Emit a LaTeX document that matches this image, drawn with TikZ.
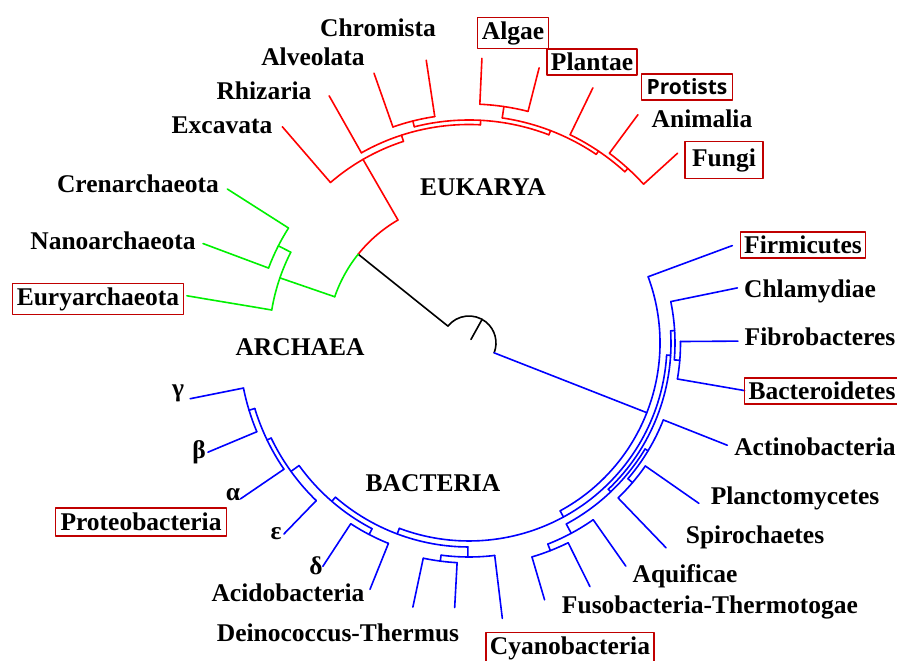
\documentclass[tikz,border=0pt]{standalone}
\usepackage{fontspec}
\setmainfont{Liberation Serif}
\newfontfamily\tagsans{Open Sans}
\usetikzlibrary{positioning}
\definecolor{eukred}{HTML}{FF0000}
\definecolor{archgreen}{HTML}{00F000}
\definecolor{bacblue}{HTML}{0000FF}
\definecolor{boxred}{HTML}{C00000}

\begin{document}
\begin{tikzpicture}[x=1pt,y=1pt,line width=1.6pt,line cap=round,line join=round,
      font=\fontsize{25.5}{30}\selectfont\bfseries,
      lbl/.style={inner sep=1pt},
      tag/.style={draw=boxred,line width=1.3pt,inner sep=4pt}]
    \useasboundingbox (0,0) rectangle (897,661);
    \begin{scope}[shift={(469,318)}]
      % root
      \coordinate (root) at (141.3:27);
      \coordinate (ea) at (141.3:142);
      \coordinate (bac) at (-21.4:191);
      \draw[black] (root) arc[start angle=141.3,end angle=-21.4,radius=27];
      \draw[black] (61:4) -- (61:27);
      \draw[black] (root) -- (ea);
      \draw[bacblue] (-21.4:27) -- (bac);
      \draw[eukred] (120:142) arc[start angle=120,end angle=141.3,radius=142];
      \draw[archgreen] (ea) arc[start angle=141.3,end angle=161,radius=142];
      % eukarya
      \foreach \a/\b/\r in {130.8/108/212,119.5/87/218.5,104.2/69/223,109.4/98.6/229,
          81.6/56/227.5,87.4/75.7/239,64.1/47.7/231.5,53.5/42.3/236}
        \draw[eukred] (\a:\r) arc[start angle=\a,end angle=\b,radius=\r];
      \foreach \a/\i/\o in {120/142/212,108/212/218.5,87/218.5/223,104.2/223/229,
          69/223/227.5,81.6/227.5/239,56/227.5/231.5,47.7/231.5/236}
        \draw[eukred] (\a:\i) -- (\a:\o);
      \foreach \n/\a/\i/\o in {excavata/130.8/212/285.7,rhizaria/119.5/218.5/284,
          alveolata/109.4/229/286,chromista/98.6/229/286,algae/87.4/239/285,
          plantae/75.7/239/284,protists/64.1/231.5/283.6,animalia/53.5/236/284,
          fungi/42.3/236/282}{
        \coordinate (\n-j) at (\a:\i);
        \coordinate (\n-e) at (\a:\o);
        \draw[eukred] (\n-j) -- (\n-e);}
      % archaea
      \draw[archgreen] (161:142) -- (161:200);
      \draw[archgreen] (153:200) arc[start angle=153,end angle=170.5,radius=200];
      \draw[archgreen] (153:200) -- (153:214);
      \draw[archgreen] (147.5:214) arc[start angle=147.5,end angle=159.5,radius=214];
      \foreach \n/\a/\i/\o in {cren/147.5/214/286.5,nano/159.5/214/284,eury/170.5/200/286}{
        \coordinate (\n-j) at (\a:\i);
        \coordinate (\n-e) at (\a:\o);
        \draw[archgreen] (\n-j) -- (\n-e);}
      % bacteria
      \foreach \a/\b/\r in {20.3/-61.5/191,-3.5/-110.6/198,3.45/-46.4/202,11.6/-4.7/206,
          0.4/-9.8/211.5,-31.05/-61.75/205.5,-21.6/-40.5/209,-34.9/-46.1/215,
          -54.9/-68.6/216,-63.6/-73.6/223,-90.3/-130.9/204,-83.1/-97.5/214,
          -93.1/-102/220,-117.55/-144.2/209.5,-111.9/-123.2/216,-134.1/-154.35/219.5,
          -145.7/-163/224,-157.3/-168.7/230}
        \draw[bacblue] (\a:\r) arc[start angle=\a,end angle=\b,radius=\r];
      \foreach \a/\i/\o in {-61.5/191/198,-3.5/198/202,3.45/202/206,-4.7/206/211.5,
          -46.4/202/205.5,-31.05/205.5/209,-40.5/209/215,-61.75/205.5/216,
          -68.6/216/223,-110.6/198/204,-90.3/204/214,-97.5/214/220,
          -130.9/204/209.5,-117.55/209.5/216,-144.2/209.5/219.5,-154.35/219.5/224,
          -163/224/230}
        \draw[bacblue] (\a:\i) -- (\a:\o);
      \foreach \n/\a/\i/\o in {firm/20.3/191/280.8,chlam/11.6/206/274,fibro/0.4/211.5/269,
          bactero/-9.8/211.5/279.7,actino/-21.6/209/277.8,plancto/-34.9/215/280.3,
          spiro/-46.1/215/284.3,aquif/-54.9/216/272.7,fuso/-63.6/223/272,
          lfive/-73.6/223/267.7,lsix/-83.1/214/277.4,lseven/-93.1/220/265,
          leight/-102/220/270,acido/-111.9/216/265.5,delta/-123.2/216/267,
          eps/-134.1/219.5/266,alpha/-145.7/224/276.7,beta/-157.3/230/283,
          gamma/-168.7/230/284.4}{
        \coordinate (\n-j) at (\a:\i);
        \coordinate (\n-e) at (\a:\o);
        \draw[bacblue] (\n-j) -- (\n-e);}
    \end{scope}
    % labels
    \node[lbl] (chromista) at (378,633) {Chromista};
    \node[lbl] (alveolata) at (313,604) {Alveolata};
    \node[lbl] (rhizaria) at (264,570) {Rhizaria};
    \node[lbl] (excavata) at (222,536) {Excavata};
    \node[tag] (algae) at (513,628) {Algae};
    \node[tag] (plantae) at (592,599) {Plantae};
    \node[tag,inner sep=5pt,font=\tagsans\fontsize{21}{25}\selectfont\bfseries] (protists) at (687,574) {Protists};
    \node[lbl] (animalia) at (702,542) {Animalia};
    \node[tag,inner sep=7pt] (fungi) at (724,501) {Fungi};
    \node[lbl] (eukarya) at (483,474) {EUKARYA};
    \node[lbl] (crenarchaeota) at (138,477) {Crenarchaeota};
    \node[lbl] (nanoarchaeota) at (113,420) {Nanoarchaeota};
    \node[tag] (euryarchaeota) at (98,362) {Euryarchaeota};
    \node[lbl] (archaea) at (300,314) {ARCHAEA};
    \node[tag] (firmicutes) at (803,416) {Firmicutes};
    \node[lbl] (chlamydiae) at (810,370) {Chlamydiae};
    \node[lbl] (fibrobacteres) at (820,324) {Fibrobacteres};
    \node[tag] (bacteroidetes) at (822,270) {Bacteroidetes};
    \node[lbl] (actinobacteria) at (815,214) {Actinobacteria};
    \node[lbl] (planctomycetes) at (795,163) {Planctomycetes};
    \node[lbl] (spirochaetes) at (755,124) {Spirochaetes};
    \node[lbl] (aquificae) at (685,85) {Aquificae};
    \node[lbl] (fusobacteria) at (710,54) {Fusobacteria-Thermotogae};
    \node[tag] (cyanobacteria) at (570,13) {Cyanobacteria};
    \node[lbl] (bacteria) at (433,178) {BACTERIA};
    \node[lbl] (acidobacteria) at (288,68) {Acidobacteria};
    \node[lbl] (deinococcus) at (338,28) {Deinococcus-Thermus};
    \node[lbl] (gamma) at (178,268) {γ};
    \node[lbl] (beta) at (199,209) {β};
    \node[lbl] (alpha) at (233,166) {α};
    \node[lbl] (epsilon) at (276,127) {ε};
    \node[lbl] (deltalbl) at (316,95) {δ};
    \node[tag,inner sep=5pt] (proteobacteria) at (141,139) {Proteobacteria};
  \end{tikzpicture}
\end{document}
